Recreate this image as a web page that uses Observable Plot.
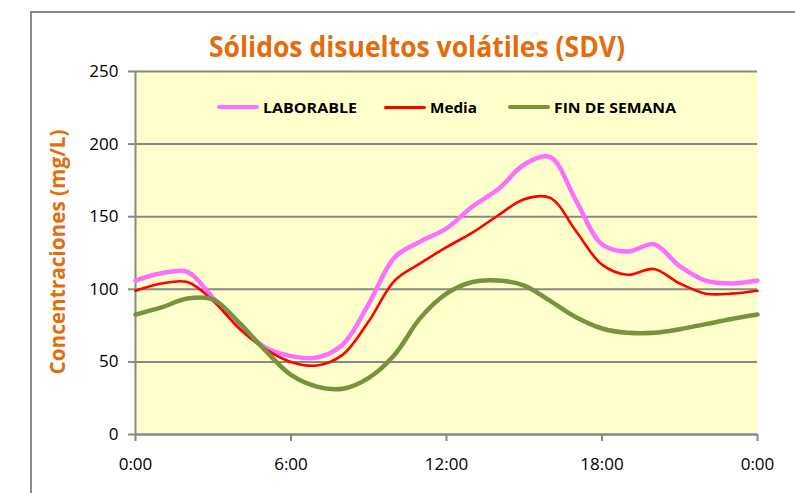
<!DOCTYPE html>
<html>
<head>
<meta charset="utf-8">
<script src="https://cdn.jsdelivr.net/npm/d3@7"></script>
<script src="https://cdn.jsdelivr.net/npm/@observablehq/plot@0.6"></script>
<style>
  body { margin: 0; background: #fff; }
  #wrap { position: relative; width: 795px; height: 493px; overflow: hidden; font-family: "Open Sans", sans-serif; }
  #frame { position: absolute; left: 30px; top: 11px; width: 780px; height: 500px; border-left: 2px solid #8a8a8a; border-top: 2px solid #8a8a8a; }
  #chart { position: absolute; left: 0; top: 0; }
  #title { position: absolute; left: 0; top: 26px; white-space: nowrap;
           color: #E46C0A; font-weight: 700; font-size: 29px; line-height: 40px; transform-origin: 0 0; }
  #ylabel { position: absolute; left: 57px; top: 253px; white-space: nowrap; color: #E46C0A; font-weight: 700; font-size: 20.5px;
            transform-origin: 0 0; }
  #legend { position: absolute; left: 0; top: 96px; width: 795px; height: 22px; font-weight: 700; font-size: 15px; color: #000; }
  .sw { position: absolute; top: 9px; width: 42px; border-radius: 3px; }
  .lt { position: absolute; top: 0; line-height: 22px; white-space: nowrap; }
</style>
</head>
<body>
<div id="wrap">
  <div id="frame"></div>
  <div id="chart"></div>
  <div id="title"></div>
  <div id="ylabel"></div>
  <div id="legend"></div>
</div>
<script>
// ---- data ----
const titleText = "Sólidos disueltos volátiles (SDV)";
const yLabelText = "Concentraciones (mg/L)";
const hours = [0,1,2,3,4,5,6,7,8,9,10,11,12,13,14,15,16,17,18,19,20,21,22,23,24];
const laborable = [106,111,112,94,75,60,54,53,62,90,122,133,142,157,169,186,191,161,131,126,131,116,106,104,106];
const media = [99,104,105,92,73,59,50,47.5,55,78,106,118,129,139,151,162,163,140,117,110,114,104,97,97,99];
const finDeSemana = [82.6,87.5,93.6,93,77,58,41,33,31.5,39,55,80.5,97,105,106,102.6,92,80.7,73,70,70,72.5,76,79.5,82.6];
const seriesNames = ["LABORABLE", "Media", "FIN DE SEMANA"];
const xTicks = [0, 6, 12, 18, 24];
const xTickLabels = ["0:00", "6:00", "12:00", "18:00", "0:00"];
const yTicks = [0, 50, 100, 150, 200, 250];

// ---- styles ----
const colors = ["#FF6EFF", "#FF0000", "#77933C"];
const widths = [4.5, 2.6, 4.5];
const gray = "#888888";
const legendSwatchX = [217, 384, 508];
const legendTextW = [94, 47, 122];

const seriesValues = [laborable, media, finDeSemana];
const lineMarks = seriesValues.map((vals, k) =>
  Plot.line(vals, { x: (d, i) => hours[i], y: d => d, stroke: colors[k], strokeWidth: widths[k], curve: "catmull-rom" })
);

const chart = Plot.plot({
  width: 795,
  height: 493,
  marginLeft: 135,
  marginRight: 38,
  marginTop: 71,
  marginBottom: 59,
  style: { background: "transparent", fontFamily: "'Open Sans', sans-serif", fontSize: "17px", color: "#000" },
  x: { domain: [0, 24], label: null },
  y: { domain: [0, 250], label: null },
  marks: [
    Plot.frame({ fill: "#FFFFCC", stroke: null }),
    Plot.gridY(yTicks, { stroke: gray, strokeOpacity: 1, strokeWidth: 2 }),
    Plot.ruleX([0], { stroke: gray, strokeWidth: 2 }),
    Plot.ruleY([0], { stroke: gray, strokeWidth: 2 }),
    Plot.axisY(yTicks, { tickSize: 7, tickPadding: 10, stroke: gray, strokeWidth: 2, fill: "#000", fontSize: 17, label: null }),
    Plot.axisX(xTicks, { tickSize: 7, tickPadding: 16, stroke: gray, strokeWidth: 2, fill: "#000", fontSize: 17, label: null,
      tickFormat: (d) => xTickLabels[xTicks.indexOf(d)] }),
    ...lineMarks
  ]
});
document.getElementById("chart").appendChild(chart);

// title, fitted to the reference width
const t = document.getElementById("title");
t.textContent = titleText;
const tw = t.getBoundingClientRect().width;
t.style.left = "209px";
t.style.transform = `scaleX(${416 / tw})`;

// y label, rotated and centred on the plot's vertical middle
const yl = document.getElementById("ylabel");
yl.textContent = yLabelText;
const yr = yl.getBoundingClientRect();
const ys = 245 / yr.width;
yl.style.transform = `translate(${-yr.height / 2}px, ${245 / 2}px) rotate(-90deg) scaleX(${ys})`;
yl.style.left = "57px";
yl.style.top = "252px";

// legend
const lg = document.getElementById("legend");
seriesNames.forEach((name, k) => {
  const sw = document.createElement("div");
  sw.className = "sw";
  sw.style.left = legendSwatchX[k] + "px";
  sw.style.background = colors[k];
  const h = k === 1 ? 3 : 4.5;
  sw.style.height = h + "px";
  sw.style.top = (11 - h / 2) + "px";
  const tx = document.createElement("span");
  tx.className = "lt";
  tx.textContent = name;
  tx.style.left = (legendSwatchX[k] + 46) + "px";
  lg.appendChild(sw);
  lg.appendChild(tx);
  const w = tx.getBoundingClientRect().width;
  tx.style.transformOrigin = "0 0";
  tx.style.transform = `scaleX(${legendTextW[k] / w})`;
});
</script>
</body>
</html>
